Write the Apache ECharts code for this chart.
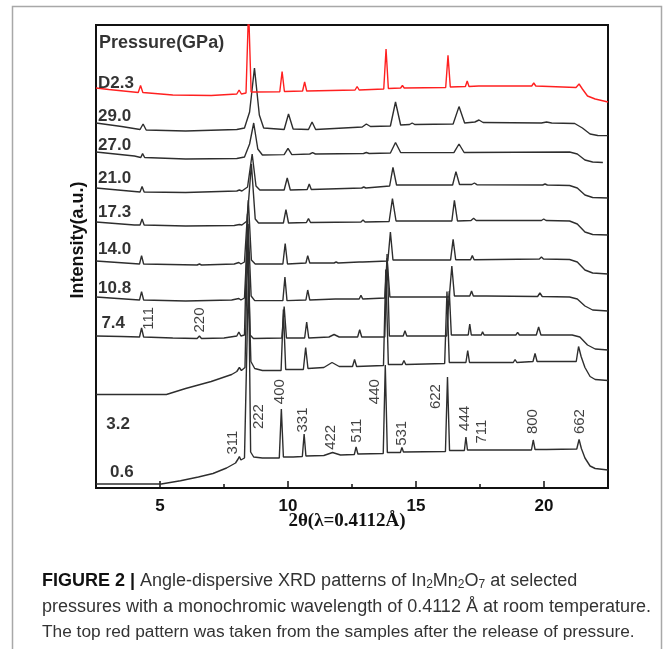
<!DOCTYPE html>
<html>
<head>
<meta charset="utf-8">
<script src="https://cdn.jsdelivr.net/npm/echarts@6.0.0/dist/echarts.min.js"></script>
<style>
  body { margin: 0; background: #fff; }
  #chart { width: 663px; height: 649px; }
</style>
</head>
<body>
<div id="chart"></div>
<script>
// 2theta (deg) vs relative intensity (a.u.), one list per pressure
const p06 = [[2.5,0],[5.05,0],[5.8,3.3],[6.5,7],[7.07,10.5],[7.6,16],[7.95,21],[8.05,25],[8.1,27.5],[8.16,24],[8.3,26],[8.46,214],[8.54,32],[8.66,27],[9.0,26],[9.66,26],[9.74,75],[9.82,27],[10.2,27],[10.56,27.5],[10.63,50],[10.7,28],[11.4,28.5],[11.74,31.5],[12.05,29],[12.59,29.5],[12.66,37],[12.73,30],[13.72,30.5],[13.8,119],[13.88,31.5],[14.39,31.5],[14.45,36.5],[14.51,32],[16.15,32.5],[16.23,107],[16.31,33.5],[16.89,33.5],[16.95,47],[17.01,34],[17.42,34],[17.46,36],[17.5,34],[18.74,34],[18.8,35],[18.86,34],[19.51,34],[19.58,44],[19.65,34.5],[20.0,34.5],[20.05,35.5],[20.1,34.5],[21.28,35],[21.37,44.5],[21.46,35.5],[21.6,26],[21.8,18],[22.0,15.5],[22.5,14]];
const p32 = [[2.5,0],[5.25,0],[6.0,6],[7.0,13],[7.8,20],[8.0,23],[8.1,27],[8.18,24],[8.32,27],[8.42,150],[8.55,33],[8.7,26],[9.0,24],[9.73,24],[9.82,85],[9.91,25],[10.6,25],[10.69,47],[10.78,26],[11.4,27],[11.72,32],[12.0,28],[12.52,28],[12.6,35],[12.68,28],[13.73,29],[13.82,125],[13.92,30],[14.46,30],[14.53,34],[14.6,30],[16.12,31],[16.21,103],[16.3,32],[16.95,32],[17.02,44],[17.09,32],[17.45,32],[17.5,34],[17.55,32],[18.8,32],[18.87,35],[18.94,32],[19.57,33],[19.65,41],[19.73,33],[20.05,33],[20.1,35],[20.15,33],[21.26,33],[21.35,48],[21.45,38],[21.6,27],[21.8,18],[22.0,15],[22.5,14]];
const p74 = [[2.5,0],[3.5,-0.5],[4.2,-1],[4.28,8],[4.36,-1],[5.5,-2],[6.45,-2.5],[6.54,0],[6.62,-2.5],[7.5,-2],[8.0,0],[8.08,4],[8.16,0],[8.3,1],[8.42,122],[8.52,1],[8.65,-2.5],[9.76,-2],[9.85,29.5],[9.94,-2],[10.65,-2],[10.73,14],[10.81,-2],[11.6,-1],[11.8,1.5],[12.0,-1],[12.72,-1],[12.8,6.3],[12.88,-1],[13.78,-1],[13.87,82],[13.96,0],[14.5,0],[14.57,5.3],[14.64,0],[16.2,0],[16.3,45],[16.38,1],[17.04,1],[17.1,12],[17.16,1],[17.55,1],[17.6,4.3],[17.66,1],[18.9,1],[18.97,3.6],[19.04,1],[19.7,1],[19.79,9],[19.88,1],[20.2,1],[20.26,3],[20.32,1],[21.1,1],[21.4,-1],[21.7,-9],[22.0,-13],[22.5,-14]];
const p108 = [[2.5,0],[4.2,-3],[4.28,5.4],[4.36,-3],[6.0,-4],[7.8,-3],[8.08,-1.5],[8.16,-3],[8.3,-1],[8.44,73],[8.56,1],[8.7,-3.6],[9.8,-3.6],[9.88,20],[9.96,-3.6],[10.7,-3],[10.77,7],[10.85,-3],[11.85,-2],[11.9,-1],[11.95,-2],[12.78,-2],[12.85,1.6],[12.92,-2],[13.78,-1],[13.87,39],[13.98,0],[14.6,0],[14.65,1],[14.7,0],[16.3,0],[16.4,31],[16.5,1],[17.1,1],[17.17,6],[17.24,1],[17.65,1],[17.7,2],[17.75,1],[19.75,0.5],[19.84,4],[19.93,0.5],[21.0,0],[21.3,-2],[21.6,-9],[21.9,-13],[22.5,-14]];
const p140 = [[2.5,0],[4.2,-3],[4.28,5.4],[4.36,-3],[6.45,-4],[6.54,-3],[6.62,-4],[7.9,-3],[8.08,-1.5],[8.16,-3],[8.3,-1],[8.45,61],[8.57,1],[8.72,-3],[9.8,-3],[9.89,17.5],[9.98,-3],[10.7,-2],[10.77,5.4],[10.85,-2],[11.8,-2],[11.88,-1],[11.96,-2],[12.78,-1],[12.85,1],[12.92,-1],[13.9,0],[14.0,29],[14.1,1],[14.6,1],[14.65,2.5],[14.7,1],[16.35,1],[16.45,21.6],[16.55,1.3],[17.13,1.3],[17.2,5.4],[17.27,1.3],[19.82,2],[19.9,4],[19.98,2],[21.0,1.5],[21.3,-1],[21.6,-9],[21.9,-12],[22.5,-13]];
const p173 = [[2.5,0],[4.0,-3],[4.22,-3],[4.3,3],[4.38,-3],[6.0,-4],[7.9,-3.5],[8.1,-2.5],[8.2,-3],[8.4,1],[8.57,58],[8.72,3],[8.85,-1],[9.82,-1],[9.92,12.3],[10.02,-1],[10.72,-0.5],[10.8,3.4],[10.88,-0.5],[12.85,0],[12.93,2],[13.01,0],[13.95,0.5],[14.08,23.4],[14.22,1],[16.4,1],[16.5,21.7],[16.62,1],[17.15,1.5],[17.25,3.7],[17.35,1.5],[19.9,1.5],[19.99,3],[20.08,1.5],[21.0,1],[21.3,-2],[21.6,-10],[21.9,-12.5],[22.5,-13]];
const p210 = [[2.5,0],[4.0,-3.5],[4.22,-4],[4.3,1.5],[4.38,-4],[6.0,-4.5],[8.0,-3],[8.1,-2],[8.2,-3],[8.42,1],[8.6,34],[8.75,2],[8.9,-2],[9.85,-2],[9.97,10],[10.09,-2],[10.75,-1.5],[10.83,4],[10.91,-1.5],[12.88,0],[12.96,1],[13.04,0],[13.97,2],[14.1,20.6],[14.24,3],[16.43,3],[16.56,16.4],[16.7,3.5],[17.18,3.5],[17.28,5],[17.38,3.3],[19.95,3],[20.04,4],[20.13,3],[21.0,2.5],[21.3,0],[21.6,-7],[21.9,-9.5],[22.5,-10]];
const p270 = [[2.5,0],[4.0,-4],[4.25,-5.5],[4.32,-1.6],[4.4,-5.5],[6.0,-7],[8.0,-6.5],[8.3,-5],[8.5,8],[8.66,29],[8.82,3],[9.0,-3],[9.85,-2.6],[10.0,3.6],[10.15,-2.6],[10.85,-2],[10.96,-0.6],[11.07,-2],[12.95,-1.5],[13.06,-0.5],[13.17,-1.5],[14.0,-1],[14.2,9.5],[14.4,-0.5],[16.48,-0.6],[16.68,8],[16.88,-0.5],[21.0,0],[21.3,-2],[21.6,-8],[21.9,-10],[22.3,-10.5]];
const p290 = [[2.5,0],[3.5,-3.5],[4.22,-6.5],[4.34,-1],[4.46,-7],[6.0,-8],[8.0,-6.5],[8.3,-5],[8.5,11],[8.69,55],[8.88,8],[9.05,-5],[9.85,-6.5],[10.02,9],[10.2,-6],[10.8,-6.5],[10.94,1],[11.08,-6.5],[12.9,-4],[13.06,-1],[13.22,-3.5],[14.0,-3],[14.2,21],[14.4,-2],[14.75,-1.5],[14.85,0],[14.95,-1.5],[16.45,-1],[16.68,16.4],[16.9,0],[17.3,1],[17.46,3],[17.62,0.5],[19.9,0],[20.1,1],[20.3,0],[21.2,-0.5],[21.5,-5],[21.8,-11],[22.1,-12.5],[22.5,-12.6]];
const pD23 = [[2.5,0],[3.0,-1.5],[4.15,-4.5],[4.24,2.5],[4.33,-4.5],[5.5,-7],[7.0,-7.5],[8.0,-6],[8.09,-2],[8.18,-6],[8.36,-5],[8.46,80],[8.56,-4],[8.7,-4],[9.68,-3.7],[9.77,16.3],[9.86,-3.5],[10.57,-3],[10.65,6],[10.73,-3],[12.62,-2],[12.7,1.5],[12.78,-2],[13.74,-1],[13.83,39],[13.92,-0.5],[14.4,0],[14.47,2.5],[14.54,0],[16.16,0.5],[16.25,32.6],[16.34,1],[16.93,1.5],[17.0,7],[17.07,1.5],[17.45,2],[17.5,3],[17.55,2],[19.52,2],[19.6,5],[19.68,2],[21.25,0.5],[21.37,4],[21.5,-1],[21.7,-8],[22.0,-11],[22.5,-14]];

const patterns = [p06, p32, p74, p108, p140, p173, p210, p270, p290, pD23];
const offsets = [4, 93.5, 152, 191, 227, 266, 300, 336, 365, 400];
const pressures = ['0.6', '3.2', '7.4', '10.8', '14.0', '17.3', '21.0', '27.0', '29.0', 'D2.3'];
const pressureX = [3.05, 2.9, 2.71, 2.58, 2.58, 2.58, 2.58, 2.58, 2.58, 2.58];
const pressureY = [15.5, 64, 165, 200, 239, 276, 310, 343, 372, 405];

const hkl = ['111', '220', '311', '222', '400', '331', '422', '511', '440', '531', '622', '444', '711', '800', '662'];
const hklX = [4.58, 6.54, 7.86, 8.88, 9.69, 10.59, 11.68, 12.69, 13.41, 14.45, 15.77, 16.91, 17.58, 19.58, 21.41];
const hklY = [169.7, 168, 45.4, 71.4, 96.3, 68, 50.7, 57.3, 96.3, 54.7, 91.4, 69.6, 56.4, 66.4, 66.4];

const xTicks = [5, 10, 15, 20];
const xMinorTicks = [7.5, 12.5, 17.5];

const chart = echarts.init(document.getElementById('chart'));

const lineSeries = patterns.map((p, i) => ({
  type: 'line',
  data: p.map(d => [d[0], d[1] + offsets[i]]),
  symbol: 'none',
  clip: true,
  z: i === 9 ? 3 : 2,
  lineStyle: { color: i === 9 ? '#ff2020' : '#2e2e2e', width: 1.4 }
}));

const font = 'Liberation Sans';

const options = {
  backgroundColor: '#fff',
  animation: false,
  grid: {
    left: 96, top: 25, width: 512, height: 463,
    show: true, borderColor: '#111', borderWidth: 2
  },
  xAxis: [{
    type: 'value', min: 2.5, max: 22.5,
    axisLine: { lineStyle: { color: '#111', width: 2 } },
    axisTick: { inside: true, length: 7, customValues: xTicks, lineStyle: { color: '#111', width: 1.5 } },
    axisLabel: { customValues: xTicks, margin: 10, fontFamily: font, fontWeight: 'bold', fontSize: 17, color: '#111' },
    splitLine: { show: false }
  }, {
    type: 'value', min: 2.5, max: 22.5, position: 'bottom',
    axisLine: { show: false },
    axisTick: { inside: true, length: 4, customValues: xMinorTicks, lineStyle: { color: '#111', width: 1.5 } },
    axisLabel: { show: false },
    splitLine: { show: false }
  }],
  yAxis: { type: 'value', min: 0, max: 463, show: false },
  series: lineSeries.concat([{
    type: 'scatter', symbolSize: 0, silent: true, z: 5,
    data: pressures.map((n, i) => ({ name: n, value: [pressureX[i], pressureY[i]] }))
      .concat([{ name: 'Pressure(GPa)', value: [2.62, 445], label: { fontSize: 18 } }]),
    label: { show: true, formatter: '{b}', position: 'right', distance: 0, fontFamily: font, fontWeight: 'bold', fontSize: 17, color: '#000' }
  }, {
    type: 'scatter', symbolSize: 0, silent: true, z: 5,
    data: hkl.map((n, i) => ({ name: n, value: [hklX[i], hklY[i]] })),
    label: { show: true, formatter: '{b}', position: 'inside', rotate: 90, fontFamily: font, fontSize: 15, color: '#111' }
  }]),
  graphic: [{
    type: 'rect', shape: { x: 12.5, y: 6.5, width: 649, height: 700 },
    style: { fill: 'none', stroke: '#a8a8a8', lineWidth: 1.5 }, silent: true
  }, {
    type: 'text', x: 78, y: 240, rotation: Math.PI / 2,
    style: { text: 'Intensity(a.u.)', font: 'bold 18px Liberation Sans', fill: '#111', align: 'center', verticalAlign: 'middle' }
  }, {
    type: 'text', x: 347, y: 521,
    style: { text: '2θ(λ=0.4112Å)', font: 'bold 19px Liberation Serif', fill: '#111', align: 'center', verticalAlign: 'middle' }
  }, {
    type: 'text', x: 42, y: 581,
    style: {
      text: '{b|FIGURE 2 |} Angle-dispersive XRD patterns of In{s|2}Mn{s|2}O{s|7} at selected',
      font: '18px Liberation Sans', fill: '#333', verticalAlign: 'middle',
      rich: {
        b: { fontWeight: 'bold', fontSize: 18, fontFamily: font, fill: '#111' },
        s: { fontSize: 12, fontFamily: font, padding: [7, 0, 0, 0], fill: '#333' }
      }
    }
  }, {
    type: 'text', x: 42, y: 607,
    style: { text: 'pressures with a monochromic wavelength of 0.4112 Å at room temperature.', font: '18px Liberation Sans', fill: '#333', verticalAlign: 'middle' }
  }, {
    type: 'text', x: 42, y: 632,
    style: { text: 'The top red pattern was taken from the samples after the release of pressure.', font: '17.3px Liberation Sans', fill: '#333', verticalAlign: 'middle' }
  }]
};

chart.setOption(options);
</script>
</body>
</html>
